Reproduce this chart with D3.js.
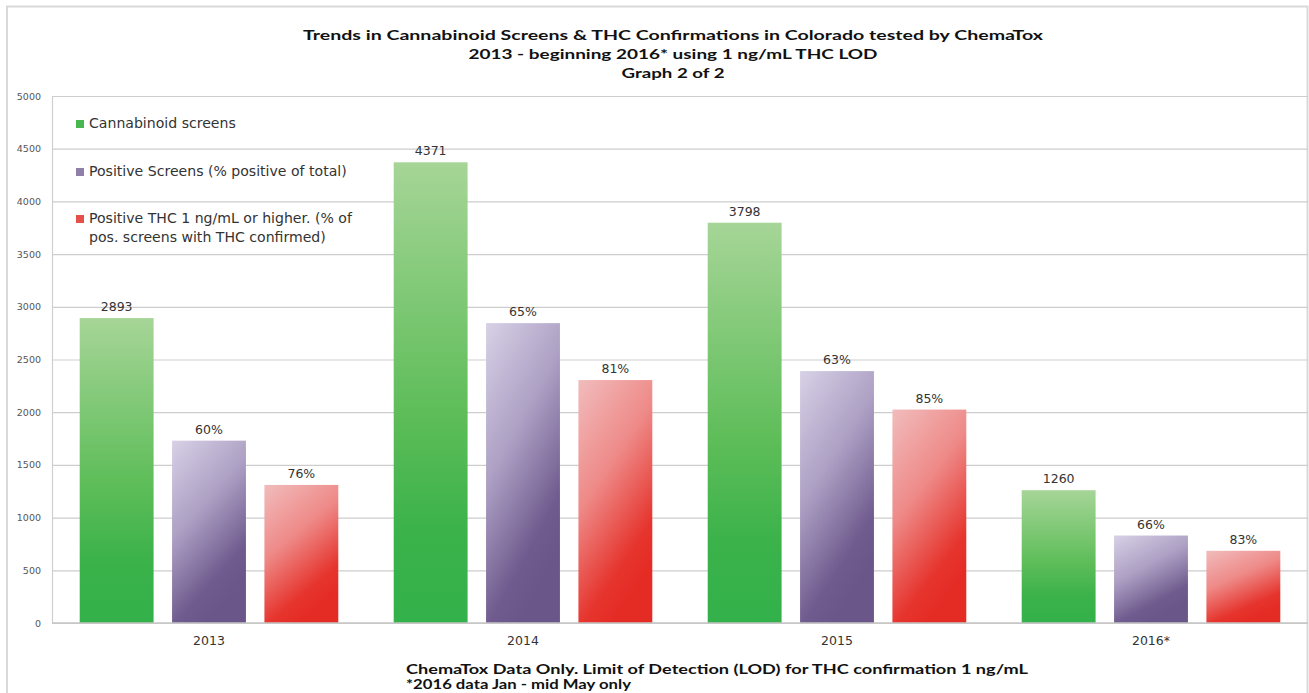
<!DOCTYPE html>
<html>
<head>
<meta charset="utf-8">
<script src="https://cdn.jsdelivr.net/npm/d3@7"></script>
<style>
  html, body { margin: 0; padding: 0; background: #ffffff; }
  svg { display: block; }
</style>
</head>
<body>
<svg id="chart" width="1309" height="693"></svg>
<script>
// ---------- data ----------
const categories = ["2013", "2014", "2015", "2016*"];
const screens = [2893, 4371, 3798, 1260];
const positiveScreens = [1730, 2845, 2390, 830];
const positiveTHC = [1310, 2305, 2025, 685];
const screenLabels = ["2893", "4371", "3798", "1260"];
const positiveLabels = ["60%", "65%", "63%", "66%"];
const thcLabels = ["76%", "81%", "85%", "83%"];
const yTicks = [0, 500, 1000, 1500, 2000, 2500, 3000, 3500, 4000, 4500, 5000];
const seriesNames = [
  ["Cannabinoid screens"],
  ["Positive Screens (% positive of total)"],
  ["Positive THC 1 ng/mL or higher. (% of", "pos. screens with THC confirmed)"]
];
const titleLines = [
  "Trends in Cannabinoid Screens & THC Confirmations in Colorado tested by ChemaTox",
  "2013 - beginning 2016* using 1 ng/mL THC LOD",
  "Graph 2 of 2"
];
const footLines = [
  "ChemaTox Data Only. Limit of Detection (LOD) for THC confirmation 1 ng/mL",
  "*2016 data Jan - mid May only"
];

const seriesValues = [screens, positiveScreens, positiveTHC];
const seriesLabels = [screenLabels, positiveLabels, thcLabels];

// ---------- layout ----------
const svg = d3.select("#chart");
const plot = { left: 52, right: 1308, top: 96, bottom: 623 };

// dark strip of cut-off heading above the frame
svg.append("rect")
  .attr("x", 0).attr("y", 0).attr("width", 1309).attr("height", 5)
  .attr("fill", "#ffffff");

// outer frame
svg.append("rect")
  .attr("x", 7).attr("y", 6.5)
  .attr("width", 1300.5).attr("height", 700)
  .attr("fill", "#ffffff")
  .attr("stroke", "#d9d9d9").attr("stroke-width", 2);

// gradients
const defs = svg.append("defs");
const grads = [
  { id: "gGreen", x2: 0, y2: 1, stops: [[0, "#a6d597"], [0.55, "#5dbd58"], [0.8, "#3bb24a"], [1, "#33b14a"]] },
  { id: "gPurple", x2: 0.45, y2: 1, stops: [[0, "#d7d1e6"], [0.45, "#ada0c4"], [0.85, "#6f5b8e"], [1, "#6a5689"]] },
  { id: "gRed", x2: 0.45, y2: 1, stops: [[0, "#f1bcbc"], [0.45, "#ee8a88"], [0.85, "#e6352e"], [1, "#e42c25"]] }
];
grads.forEach(g => {
  const lg = defs.append("linearGradient").attr("id", g.id)
    .attr("x1", 0).attr("y1", 0).attr("x2", g.x2).attr("y2", g.y2);
  g.stops.forEach(s => lg.append("stop").attr("offset", s[0]).attr("stop-color", s[1]));
});
const fills = ["url(#gGreen)", "url(#gPurple)", "url(#gRed)"];
const legendFills = ["#49b74f", "#8e80a9", "#e5504b"];

// scales
const y = d3.scaleLinear().domain([0, 5000]).range([plot.bottom, plot.top]);
const x = d3.scaleBand().domain(categories).range([plot.left, plot.right]).paddingInner(0).paddingOuter(0);
const xs = d3.scaleBand().domain([0, 1, 2]).range([0, x.bandwidth()]).paddingInner(0.2).paddingOuter(0.3);

// y axis + gridlines
const yAxis = svg.append("g")
  .attr("transform", `translate(${plot.left},0)`)
  .call(d3.axisLeft(y).tickValues(yTicks).tickFormat(d3.format("d"))
    .tickSize(-(plot.right - plot.left)).tickPadding(11));
yAxis.select(".domain").attr("stroke", "#cfcfcf").attr("stroke-width", 1.2);
yAxis.selectAll(".tick line").attr("stroke", "#cdcdcd").attr("stroke-width", 1.2);
yAxis.selectAll(".tick text")
  .attr("fill", "#555").attr("font-family", "DejaVu Sans, sans-serif").attr("font-size", 9.5);

// bars
const groups = svg.append("g").selectAll("g")
  .data(categories).join("g")
  .attr("transform", d => `translate(${x(d)},0)`);

seriesValues.forEach((vals, si) => {
  groups.append("rect")
    .attr("x", xs(si))
    .attr("width", xs.bandwidth())
    .attr("y", (d, i) => y(vals[i]))
    .attr("height", (d, i) => y(0) - y(vals[i]))
    .attr("fill", fills[si]);
  groups.append("text")
    .attr("x", xs(si) + xs.bandwidth() / 2)
    .attr("y", (d, i) => y(vals[i]) - 7)
    .attr("text-anchor", "middle")
    .attr("fill", "#333")
    .attr("font-family", "DejaVu Sans, sans-serif")
    .attr("font-size", 12.5)
    .text((d, i) => seriesLabels[si][i]);
});

// baseline
svg.append("line")
  .attr("x1", plot.left).attr("x2", plot.right)
  .attr("y1", y(0)).attr("y2", y(0))
  .attr("stroke", "#c4c4c4").attr("stroke-width", 1.5);

// x axis labels
const xAxis = svg.append("g")
  .attr("transform", `translate(0,${plot.bottom})`)
  .call(d3.axisBottom(x).tickSize(0).tickPadding(13));
xAxis.select(".domain").remove();
xAxis.selectAll(".tick text")
  .attr("fill", "#333").attr("font-family", "DejaVu Sans, sans-serif").attr("font-size", 12.5);

// helper: fit font size to a target width
function fitWidth(sel, w) {
  const fs = parseFloat(sel.attr("font-size"));
  const cur = sel.node().getComputedTextLength();
  const nfs = fs * w / cur;
  sel.attr("font-size", nfs);
  return nfs;
}
// helper: stretch text horizontally to a target width (keeps height)
function stretch(sel, w) {
  sel.attr("textLength", w).attr("lengthAdjust", "spacingAndGlyphs");
}

// legend
const legend = svg.append("g");
const legendRows = [128, 176, 223];
let legendFs = null;
seriesNames.forEach((lines, i) => {
  legend.append("rect")
    .attr("x", 76).attr("y", legendRows[i] - 8)
    .attr("width", 8).attr("height", 8)
    .attr("fill", legendFills[i]);
  lines.forEach((ln, j) => {
    const t = legend.append("text")
      .attr("x", 89).attr("y", legendRows[i] + j * 19)
      .attr("fill", "#333")
      .attr("font-family", "DejaVu Sans, sans-serif")
      .attr("font-size", legendFs || 12)
      .text(ln);
    if (legendFs === null) legendFs = fitWidth(t, 147);
  });
});

// title
const titleG = svg.append("g");
const titleY = [40, 59, 78];
const titleW = [740, 409, 103];
titleLines.forEach((ln, i) => {
  const t = titleG.append("text")
    .attr("x", 673).attr("y", titleY[i])
    .attr("text-anchor", "middle")
    .attr("font-family", "Lato, 'Open Sans', sans-serif")
    .attr("font-weight", "bold")
    .attr("fill", "#111")
    .attr("font-size", 13.5)
    .text(ln);
  stretch(t, titleW[i]);
});

// footer
const footG = svg.append("g");
const footY = [674, 689];
const footW = [622, 225];
footLines.forEach((ln, i) => {
  const t = footG.append("text")
    .attr("x", 406).attr("y", footY[i])
    .attr("font-family", "Lato, 'Open Sans', sans-serif")
    .attr("font-weight", "bold")
    .attr("fill", "#111")
    .attr("font-size", 12.5)
    .text(ln);
  stretch(t, footW[i]);
});
</script>
</body>
</html>
